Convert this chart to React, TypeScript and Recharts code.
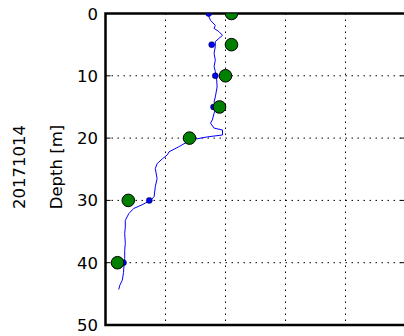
import { ReferenceArea, Scatter, ScatterChart, XAxis, YAxis, CartesianGrid } from 'recharts';

// sample depths of the bottle casts
const sampleDepths = [0, 5, 10, 15, 20, 30, 40];
const labValues = [2.1, 2.1, 2.0, 1.9, 1.4, 0.38, 0.2];
const sensorValues = [1.72, 1.77, 1.83, 1.8, 1.4, 0.73, 0.3];

// continuous sensor profile
const profileDepths = [
  0, 1.1, 1.9, 2.4, 2.9, 3.5, 4.0, 4.5, 5.3, 6.4, 7.5, 8.5, 9.3, 10.1, 11.8, 13.4, 14.2, 15.0, 16.0, 17.1,
  17.6, 18.4, 18.7, 19.5, 19.8, 20.3, 20.9, 21.4, 22.2, 22.7, 23.3, 24.1, 24.9, 26.5, 27.8, 29.4, 30.0, 30.7,
  31.3, 32.1, 33.2, 34.3, 35.3, 36.9, 38.0, 39.3, 40.1, 41.6, 42.8, 43.6, 44.3,
];
const profileValues = [
  1.7, 1.75, 1.83, 1.81, 1.89, 1.95, 1.89, 1.83, 1.83, 1.81, 1.83, 1.81, 1.83, 1.85, 1.86, 1.83, 1.81, 1.85, 1.81, 1.78,
  1.75, 1.81, 1.95, 1.95, 1.7, 1.42, 1.31, 1.22, 1.06, 1.03, 0.95, 0.86, 0.83, 0.86, 0.83, 0.81, 0.75, 0.61,
  0.47, 0.39, 0.33, 0.33, 0.32, 0.33, 0.32, 0.32, 0.31, 0.3, 0.28, 0.24, 0.22,
];

const xTicks = [0, 1, 2, 3, 4, 5];
const depthTicks = [0, 10, 20, 30, 40, 50];
const dateLabel = '20171014';

const FONT = 'DejaVu Sans, sans-serif';
const LEFT = 105.5;
const RIGHT = 405.5;
const TOP = 13.5;
const BOTTOM = 325;

const profile = profileDepths.map((d, i) => ({ d, v: profileValues[i] }));
const lab = sampleDepths.map((d, i) => ({ d, v: labValues[i] }));
const sensor = sampleDepths.map((d, i) => ({ d, v: sensorValues[i] }));

function DepthTick({ y, payload }: any) {
  return (
    <g>
      <text x={98} y={y} dy={6} textAnchor="end" fontSize={16.5} fontFamily={FONT} fill="#000">
        {payload.value}
      </text>
      <line x1={LEFT} x2={LEFT + 5} y1={y} y2={y} stroke="#000" />
      <line x1={RIGHT - 5} x2={RIGHT} y1={y} y2={y} stroke="#000" />
    </g>
  );
}

function InnerXTick({ x }: any) {
  return (
    <g>
      <line x1={x} x2={x} y1={BOTTOM} y2={BOTTOM - 5} stroke="#000" />
      <line x1={x} x2={x} y1={TOP} y2={TOP + 5} stroke="#000" />
    </g>
  );
}

function SideLabels() {
  return (
    <g fontFamily={FONT} fontSize={16.5} fill="#000">
      <text x={62} y={167} textAnchor="middle" transform="rotate(-90, 62, 167)">
        Depth [m]
      </text>
      <text x={25} y={167} textAnchor="middle" transform="rotate(-90, 25, 167)">
        {dateLabel}
      </text>
    </g>
  );
}

export default function App() {
  return (
    <div style={{ position: 'absolute', left: 0, top: 0, width: 404, height: 336, overflow: 'hidden', background: '#fff' }}>
      <ScatterChart width={410} height={336} margin={{ top: TOP, right: 410 - RIGHT, bottom: 336 - BOTTOM, left: 0 }}>
        <CartesianGrid stroke="#000" strokeDasharray="1.5 4.5" />
        <XAxis
          type="number"
          dataKey="v"
          domain={[0, 5]}
          ticks={xTicks}
          allowDataOverflow
          height={0}
          axisLine={false}
          tickLine={false}
          tick={<InnerXTick />}
        />
        <YAxis
          type="number"
          dataKey="d"
          domain={[0, 50]}
          ticks={depthTicks}
          reversed
          allowDataOverflow
          width={LEFT}
          axisLine={false}
          tickLine={false}
          tick={<DepthTick />}
          label={<SideLabels />}
        />
        <Scatter
          data={profile}
          line={{ stroke: '#0000ff', strokeWidth: 1 }}
          lineJointType="linear"
          shape={() => <g />}
          isAnimationActive={false}
        />
        <Scatter
          data={sensor}
          shape={(p: any) => <circle cx={p.cx} cy={p.cy} r={3} fill="#0000ff" stroke="#000" strokeWidth={0.5} />}
          isAnimationActive={false}
        />
        <Scatter
          data={lab}
          shape={(p: any) => <circle cx={p.cx} cy={p.cy} r={6.3} fill="#008000" stroke="#000" strokeWidth={1} />}
          isAnimationActive={false}
        />
        <ReferenceArea x1={0} x2={5} y1={0} y2={50} fill="none" stroke="#000" strokeWidth={2.5} fillOpacity={0} />
      </ScatterChart>
    </div>
  );
}
